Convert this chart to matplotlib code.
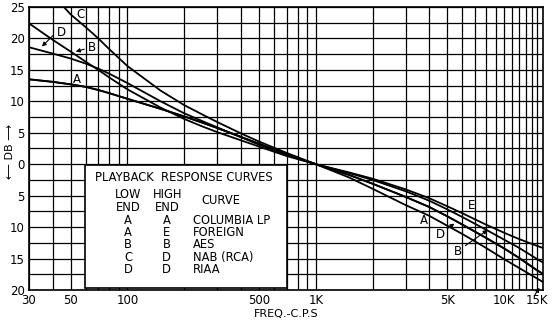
import matplotlib
matplotlib.use("Agg")
import matplotlib.pyplot as plt
from matplotlib.patches import Rectangle
from matplotlib.ticker import FixedLocator, FixedFormatter, NullFormatter

# frequencies (c.p.s) at which the curves were read
freq = [30, 40, 50, 60, 70, 80, 100, 150, 200, 250, 300, 400, 500, 700,
        1000, 1500, 2000, 3000, 4000, 5000, 6000, 8000, 10000, 12000, 15000, 16000]
freq_nab = [46, 50, 60, 70, 80, 100, 150, 200, 250, 300, 400, 500, 700,
            1000, 1500, 2000, 3000, 4000, 5000, 6000, 8000, 10000, 12000, 15000, 16000]

# dB relative to 1 kc
columbia = [13.5, 13.1, 12.7, 12.3, 11.8, 11.3, 10.4, 8.8, 7.6, 6.6, 5.75, 4.35, 3.25, 1.6,
            0, -2.1, -3.9, -6.5, -8.2, -9.8, -11.1, -13.3, -15.1, -16.5, -18.2, -18.7]
foreign = [13.5, 13.1, 12.7, 12.3, 11.8, 11.3, 10.4, 8.8, 7.6, 6.6, 5.75, 4.35, 3.25, 1.6,
           0, -1.3, -2.3, -4.0, -5.4, -6.7, -7.8, -9.6, -10.9, -11.9, -13.0, -13.3]
aes = [22.4, 19.8, 17.9, 16.3, 15.0, 13.8, 11.9, 9.0, 7.2, 6.0, 5.1, 3.8, 2.8, 1.3,
       0, -1.4, -2.5, -4.3, -5.8, -7.2, -8.4, -10.4, -12.0, -13.3, -15.1, -15.6]
riaa = [18.6, 17.6, 16.8, 16.0, 15.2, 14.4, 12.9, 10.0, 8.1, 6.85, 5.85, 4.3, 3.1, 1.5,
        0, -1.7, -3.1, -5.2, -6.8, -8.3, -9.6, -11.7, -13.4, -14.9, -16.9, -17.4]
nab = [25.0, 23.8, 21.8, 20.0, 18.3, 15.6, 11.7, 9.4, 7.9, 6.7, 4.9, 3.6, 1.8,
       0, -1.7, -3.1, -5.2, -6.8, -8.3, -9.6, -11.7, -13.4, -14.9, -16.9, -17.4]

x_ticks = [30, 50, 100, 500, 1000, 5000, 10000, 15000]
x_tick_labels = ["30", "50", "100", "500", "1K", "5K", "10K", "15K"]
x_grid = ([40, 60, 70, 80, 90, 200, 300, 400, 600, 700, 800, 900]
          + [2000, 3000, 4000, 6000, 7000, 8000, 9000, 11000, 12000, 13000, 14000])
y_ticks = [-20, -15, -10, -5, 0, 5, 10, 15, 20, 25]
y_tick_labels = ["20", "15", "10", "5", "0", "5", "10", "15", "20", "25"]

low_end = ["A", "A", "B", "C", "D"]
high_end = ["A", "E", "B", "D", "D"]
curve_names = ["COLUMBIA LP", "FOREIGN", "AES", "NAB (RCA)", "RIAA"]

fig = plt.figure(figsize=(5.52, 3.22), dpi=100)
ax = fig.add_axes([0.0525, 0.0994, 0.9305, 0.8789])
ax.set_xscale("log")
ax.set_xlim(30, 16000)
ax.set_ylim(-20, 25)

for f, v in [(freq, columbia), (freq, foreign), (freq, aes), (freq, riaa), (freq_nab, nab)]:
    ax.plot(f, v, color="black", lw=1.3, zorder=2)

ax.xaxis.set_major_locator(FixedLocator(x_ticks))
ax.xaxis.set_major_formatter(FixedFormatter(x_tick_labels))
ax.xaxis.set_minor_locator(FixedLocator(x_grid))
ax.xaxis.set_minor_formatter(NullFormatter())
ax.yaxis.set_major_locator(FixedLocator(y_ticks))
ax.yaxis.set_major_formatter(FixedFormatter(y_tick_labels))
ax.yaxis.set_minor_locator(FixedLocator([v + 2.5 for v in y_ticks[:-1]]))
ax.grid(which="both", color="black", lw=0.9, zorder=1)
ax.tick_params(which="both", length=0, labelsize=8.5, pad=3)
for s in ax.spines.values():
    s.set_linewidth(1.2)

ax.set_xlabel("FREQ.-C.P.S", fontsize=8, labelpad=1)
fig.text(0.019, 0.53, "\u27f5 DB \u27f6", rotation=90, fontsize=8,
         ha="center", va="center")

# curve letters
tk = dict(fontsize=8.5, ha="center", va="center", zorder=5)
ax.text(56, 23.8, "C", **tk)
ax.text(44.4, 21.0, "D", **tk)
ax.text(64.8, 18.6, "B", **tk)
ax.text(53.9, 13.5, "A", **tk)
ax.text(6700, -6.5, "E", **tk)
ax.text(3750, -8.9, "A", **tk)
ax.text(4600, -11.1, "D", **tk)
ax.text(5650, -13.8, "B", **tk)
ap = dict(arrowstyle="-|>", color="black", lw=0.8, mutation_scale=6)
ax.annotate("", xy=(34.3, 18.4), xytext=(41.3, 20.8), arrowprops=ap)
ax.annotate("", xy=(51.4, 17.8), xytext=(60.9, 18.4), arrowprops=ap)
ax.annotate("", xy=(5600, -9.2), xytext=(4850, -10.5), arrowprops=ap)
ax.annotate("", xy=(8400, -10.2), xytext=(6050, -13.2), arrowprops=ap)
ax.annotate("", xy=(0.997, 0.016), xytext=(0.982, -0.025), xycoords="axes fraction",
            arrowprops=ap, annotation_clip=False)

# table box
ax.add_patch(Rectangle((0.109, 0.007), 0.393, 0.435, transform=ax.transAxes,
                       facecolor="white", edgecolor="black", lw=1.2, zorder=3))
bt = dict(transform=ax.transAxes, fontsize=8.3, zorder=4, va="center")
ax.text(0.128, 0.396, "PLAYBACK  RESPONSE CURVES", ha="left", **bt)
ax.text(0.193, 0.314, "LOW\nEND", ha="center", linespacing=0.95, **bt)
ax.text(0.269, 0.314, "HIGH\nEND", ha="center", linespacing=0.95, **bt)
ax.text(0.335, 0.316, "CURVE", ha="left", **bt)
rows_y = [0.245, 0.2025, 0.159, 0.1155, 0.073]
for y, lo, hi, name in zip(rows_y, low_end, high_end, curve_names):
    ax.text(0.193, y, lo, ha="center", **bt)
    ax.text(0.268, y, hi, ha="center", **bt)
    ax.text(0.320, y, name, ha="left", **bt)

fig.savefig("out.png", dpi=100)
